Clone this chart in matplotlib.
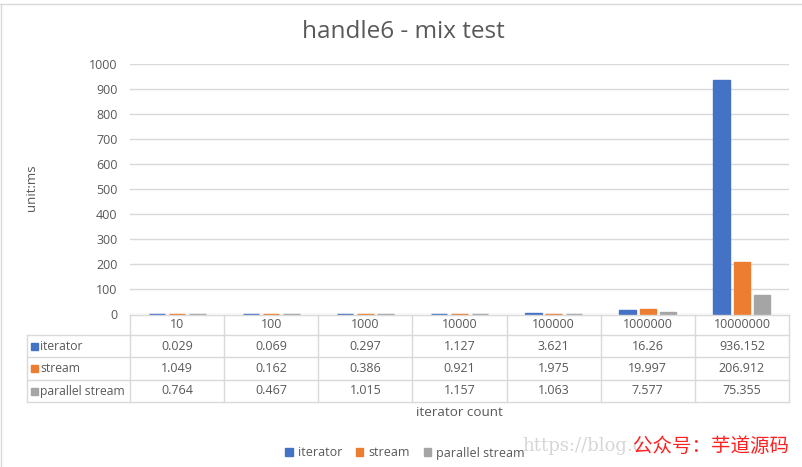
import matplotlib.pyplot as plt
from matplotlib.patches import Rectangle
from matplotlib.transforms import blended_transform_factory

plt.rcParams['font.family'] = ['Open Sans', 'Noto Sans CJK SC', 'DejaVu Sans']

# data
categories = ['10', '100', '1000', '10000', '100000', '1000000', '10000000']
iterator = [0.029, 0.069, 0.297, 1.127, 3.621, 16.26, 936.152]
stream = [1.049, 0.162, 0.386, 0.921, 1.975, 19.997, 206.912]
parallel_stream = [0.764, 0.467, 1.015, 1.157, 1.063, 7.577, 75.355]
series_names = ['iterator', 'stream', 'parallel stream']
yticks = [0, 100, 200, 300, 400, 500, 600, 700, 800, 900, 1000]

colors = ['#4472c4', '#ed7d31', '#a5a5a5']
text_c = '#595959'
grid_c = '#d9d9d9'
fs = 9

W, H = 802, 467
fig = plt.figure(figsize=(W / 100, H / 100), dpi=100)

# plot area in pixels: x 130..789, y 64..314
x0, x1, y0, y1 = 130, 789, 64, 314
ax = fig.add_axes([x0 / W, 1 - y1 / H, (x1 - x0) / W, (y1 - y0) / H])

series = [iterator, stream, parallel_stream]
bw = 0.175
step = 0.215
xs = range(len(categories))
for k, (vals, c) in enumerate(zip(series, colors)):
    # thin edge in the same colour so the tiny values still show as a line
    ax.bar([x + (k - 1) * step for x in xs], vals, width=bw, color=c,
           edgecolor=c, linewidth=1.0, label=series_names[k], zorder=3,
           clip_on=False)

ax.set_xlim(-0.5, len(categories) - 0.5)
ax.set_ylim(0, 1000)
ax.set_yticks(yticks)
ax.set_yticklabels([str(t) for t in yticks], fontsize=fs, color=text_c)
ax.tick_params(axis='y', length=0, pad=9)
ax.set_xticks([])
ax.grid(axis='y', color=grid_c, linewidth=1, zorder=0)
for s in ax.spines.values():
    s.set_visible(False)

# y label
fig.text(31 / W, 1 - 188 / H, 'unit:ms', rotation=90, ha='center', va='center',
         fontsize=9.5, color=text_c)

# data table below the axes, rows in pixel coordinates
px = lambda py: 1 - py / H
trans = blended_transform_factory(ax.transData, fig.transFigure)
row_edges = [315, 335, 357, 380, 402]
line_kw = dict(color=grid_c, linewidth=1, clip_on=False)

# header row
for i, cat in enumerate(categories):
    ax.text(i, px((row_edges[0] + row_edges[1]) / 2), cat, transform=trans,
            ha='center', va='center', fontsize=fs, color=text_c)
# horizontal lines
for j, ry in enumerate(row_edges):
    xa = 27 if j >= 1 else x0
    fig.add_artist(plt.Line2D([xa / W, x1 / W], [px(ry), px(ry)], **line_kw))
# vertical lines
for i in range(len(categories) + 1):
    fig.add_artist(plt.Line2D([(x0 + i * (x1 - x0) / len(categories)) / W] * 2,
                              [px(row_edges[0]), px(row_edges[-1])], **line_kw))
fig.add_artist(plt.Line2D([27 / W] * 2, [px(row_edges[1]), px(row_edges[-1])], **line_kw))

for k, (vals, name, c) in enumerate(zip(series, series_names, colors)):
    yc = px((row_edges[k + 1] + row_edges[k + 2]) / 2)
    fig.add_artist(Rectangle((31 / W, yc - 3.5 / H), 7 / W, 7 / H, color=c,
                             transform=fig.transFigure))
    fig.text(40 / W, yc, name, ha='left', va='center', fontsize=8.7, color=text_c)
    for i, v in enumerate(vals):
        ax.text(i, yc, f'{v:g}', transform=trans, ha='center', va='center',
                fontsize=fs, color=text_c)

# x label
fig.text(459 / W, px(413), 'iterator count', ha='center', va='center',
         fontsize=9.7, color=text_c)

# title
fig.text(403 / W, px(32), 'handle6 - mix test', ha='center', va='center',
         fontsize=17.5, color=text_c)

# legend
leg = fig.legend(loc='center', bbox_to_anchor=(405 / W, px(453)), ncol=3,
                 frameon=False, fontsize=fs, handlelength=0.6, handleheight=0.6,
                 handletextpad=0.4, columnspacing=1.1)
for t in leg.get_texts():
    t.set_color(text_c)

# watermark
fig.text(522 / W, px(446), 'https://blog.c', ha='left', va='center',
         fontsize=13, color='#d6d6d6', family='DejaVu Serif')
fig.text(633 / W, px(446), '公众号：芋道源码', ha='left', va='center',
         fontsize=14, color='#ff2020', family=['Noto Sans CJK SC', 'DejaVu Sans'])

# outer frame
fig.add_artist(plt.Line2D([0.5 / W, 0.5 / W], [0, px(4)], color=grid_c, linewidth=1))
fig.add_artist(plt.Line2D([0, 1], [px(4), px(4)], color=grid_c, linewidth=1))

fig.savefig('out.png', dpi=100)
